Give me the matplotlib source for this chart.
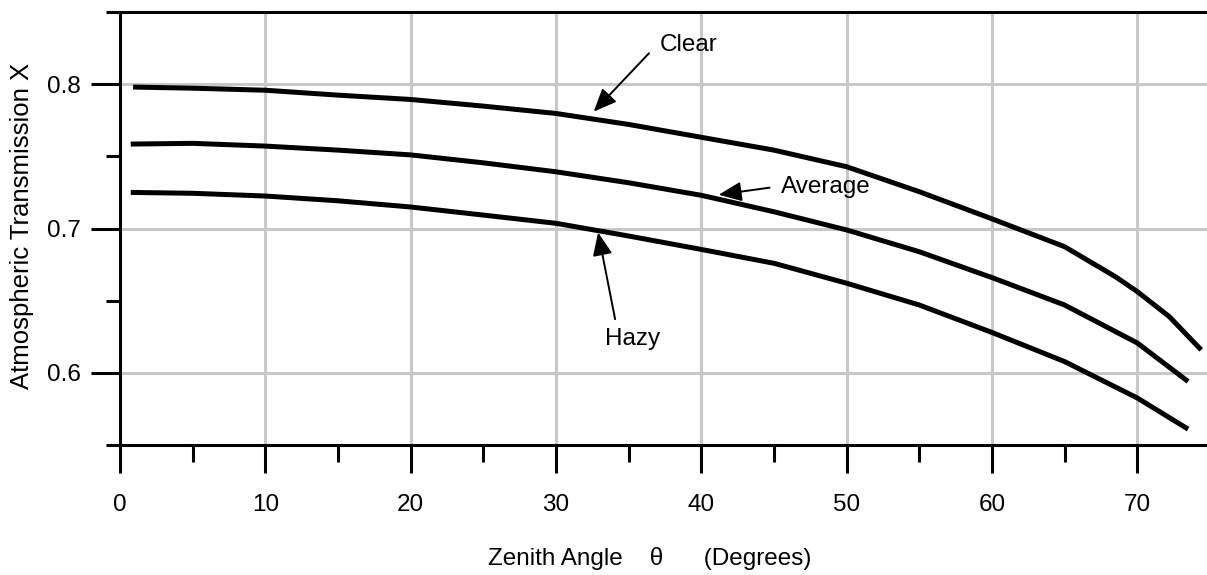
import numpy as np
import matplotlib
matplotlib.use('Agg')
from matplotlib import pyplot as plt
from matplotlib.ticker import MultipleLocator

plt.rcParams['font.family'] = ['Liberation Sans', 'DejaVu Sans']

# curves (zenith angle in degrees, transmission)
clear_x = [0.9, 5, 10, 15, 20, 25, 30, 35, 40, 45, 50, 55, 60, 65, 68.5, 70, 72.2, 74.4]
clear_y = [0.798, 0.7972, 0.7958, 0.7924, 0.7894, 0.7848, 0.7797, 0.7721, 0.7632,
           0.7543, 0.7428, 0.7255, 0.7067, 0.6874, 0.6666, 0.6563, 0.639, 0.6159]

avg_x = [0.74, 5, 10, 15, 20, 25, 30, 35, 40, 45, 50, 55, 60, 65, 70, 73.5]
avg_y = [0.7585, 0.759, 0.7571, 0.7543, 0.751, 0.7455, 0.7393, 0.7317, 0.723,
         0.7116, 0.699, 0.6839, 0.666, 0.647, 0.6207, 0.594]

hazy_x = [0.74, 5, 10, 15, 20, 25, 30, 35, 40, 45, 50, 55, 60, 65, 70, 73.5]
hazy_y = [0.725, 0.7244, 0.7225, 0.7192, 0.7149, 0.7093, 0.7036, 0.6948, 0.6855,
          0.6759, 0.6621, 0.647, 0.628, 0.6078, 0.5826, 0.561]

xticks = [0, 10, 20, 30, 40, 50, 60, 70]
yticks = [0.6, 0.7, 0.8]

fig = plt.figure(figsize=(12.07, 5.75), dpi=100)
ax = fig.add_axes([120 / 1207, 130 / 575, 1087 / 1207, 433 / 575])

for xs, ys in [(clear_x, clear_y), (avg_x, avg_y), (hazy_x, hazy_y)]:
    ax.plot(xs, ys, color='black', lw=3.6, solid_capstyle='butt',
            solid_joinstyle='round', zorder=3)

ax.set_xlim(0, 74.8)
ax.set_ylim(0.55, 0.85)
ax.set_xticks(xticks)
ax.set_xticklabels([str(v) for v in xticks])
ax.set_yticks(yticks)
ax.set_yticklabels(['%.1f' % v for v in yticks])
ax.xaxis.set_minor_locator(MultipleLocator(5))
ax.yaxis.set_minor_locator(MultipleLocator(0.05))

ax.grid(True, which='major', color='#c8c8c8', lw=2.2, zorder=0)
ax.set_axisbelow(True)

ax.spines['right'].set_visible(False)
for s in ['left', 'top', 'bottom']:
    ax.spines[s].set_linewidth(2.2)

ax.tick_params(axis='x', which='major', direction='out', length=20, width=2.2,
               pad=15, labelsize=17.5)
ax.tick_params(axis='x', which='minor', direction='out', length=12, width=2.2)
ax.tick_params(axis='y', which='major', direction='out', length=21, width=2.2,
               pad=7, labelsize=17.5)
ax.tick_params(axis='y', which='minor', direction='out', length=10, width=2.2)

ax.set_ylabel('Atmospheric Transmission X', fontsize=18.5)
ax.yaxis.set_label_coords(-0.079, 0.506)
ax.set_xlabel('Zenith Angle    \u03b8      (Degrees)', fontsize=17.5)
ax.xaxis.set_label_coords(0.487, -0.235)

arrow = dict(arrowstyle='-|>,head_length=0.7,head_width=0.3', mutation_scale=20,
             color='black', lw=1.4, shrinkA=0, shrinkB=0)
ax.annotate('', xy=(32.6, 0.781), xytext=(36.4, 0.8214), arrowprops=arrow, zorder=4)
ax.annotate('', xy=(41.2, 0.7234), xytext=(44.7, 0.7283), arrowprops=arrow, zorder=4)
ax.annotate('', xy=(32.9, 0.6972), xytext=(34.07, 0.6372), arrowprops=arrow, zorder=4)

ax.text(39.1, 0.8269, 'Clear', fontsize=17.5, ha='center', va='center')
ax.text(48.6, 0.729, 'Average', fontsize=17.5, ha='center', va='center')
ax.text(35.3, 0.6234, 'Hazy', fontsize=17.5, ha='center', va='center')

fig.savefig('out.png', dpi=100)
